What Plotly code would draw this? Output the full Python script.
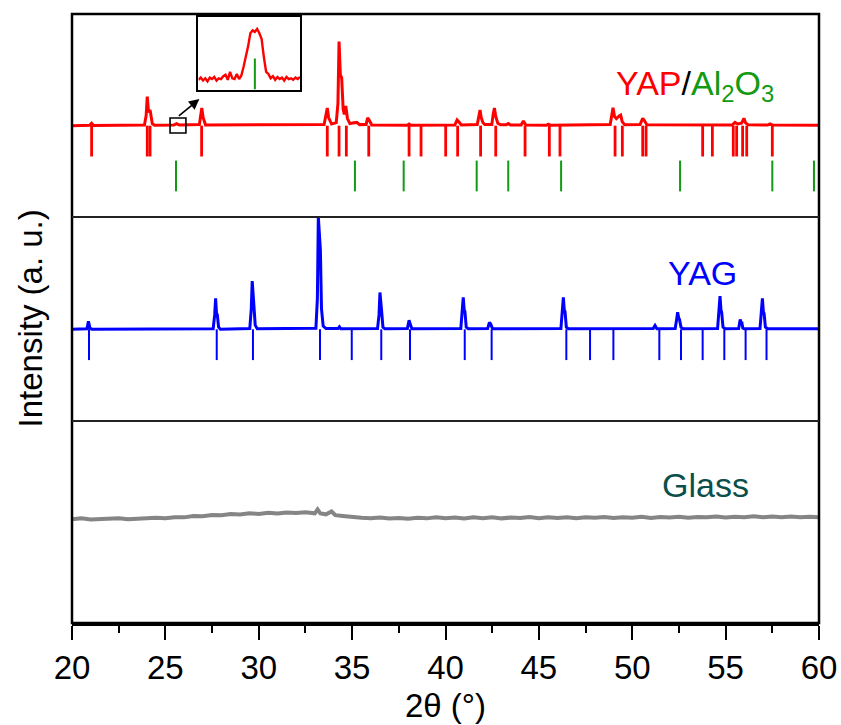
import plotly.graph_objects as go

# ---------------- data ----------------
# YAP/Al2O3 sample pattern (top panel), vertices of the measured trace
yap_two_theta = [20.00, 20.95, 21.05, 21.15, 23.88, 23.97, 24.03, 24.10, 24.18, 24.24, 24.30, 24.42,
                 25.45, 25.60, 25.75, 26.82, 26.90, 26.95, 27.02, 27.15,
                 33.50, 33.60, 33.67, 33.74, 33.90, 34.15, 34.24, 34.30, 34.37, 34.44, 34.52, 34.58,
                 34.66, 34.75, 34.88, 35.02, 35.25, 35.40, 35.75, 35.83, 35.90, 36.05,
                 37.95, 38.05, 38.15, 40.50, 40.62, 40.70, 40.85,
                 41.70, 41.79, 41.85, 41.91, 42.00, 42.10, 42.48, 42.56, 42.62, 42.69, 42.80, 42.95,
                 43.25, 43.36, 43.48, 44.05, 44.17, 44.30, 45.40, 45.50, 45.62,
                 48.82, 48.90, 48.97, 49.05, 49.15, 49.30, 49.38, 49.46, 49.60,
                 50.42, 50.50, 50.56, 50.65, 50.78, 55.35, 55.50, 55.65, 55.85, 55.93, 55.98, 56.06, 56.20,
                 57.25, 57.38, 57.52, 60.00]
yap_intensity = [45.0, 45.2, 46.2, 45.1, 45.3, 50.0, 59.3, 51.5, 52.7, 49.0, 46.0, 45.2,
                 45.3, 46.0, 45.3, 45.5, 50.0, 53.7, 49.0, 45.3,
                 45.5, 49.5, 53.7, 49.0, 45.8, 46.5, 56.0, 86.4, 70.0, 68.5, 53.0, 50.5,
                 54.7, 48.5, 46.0, 46.3, 46.6, 45.5, 45.6, 48.8, 48.0, 45.3,
                 45.2, 45.8, 45.2, 45.3, 47.8, 47.0, 45.3,
                 45.5, 50.0, 52.7, 49.0, 46.5, 45.5, 45.5, 51.0, 53.7, 49.5, 46.2, 45.4,
                 45.4, 46.0, 45.3, 45.3, 47.3, 45.3, 45.2, 45.7, 45.2,
                 45.5, 51.0, 53.8, 49.5, 48.5, 49.8, 50.2, 47.0, 45.4,
                 45.5, 47.5, 48.6, 47.5, 45.4, 45.3, 46.6, 45.8, 46.2, 47.5, 48.6, 46.5, 45.4,
                 45.3, 45.9, 45.3, 45.2]

# YAG sample pattern (middle panel)
yag_two_theta = [20.00, 20.80, 20.88, 20.96, 21.06,
                 27.56, 27.64, 27.69, 27.74, 27.78, 27.85, 27.95,
                 29.52, 29.60, 29.65, 29.70, 29.74, 29.81, 29.92,
                 33.06, 33.14, 33.19, 33.25, 33.30, 33.36, 33.45, 33.60,
                 34.25, 34.32, 34.40,
                 36.36, 36.44, 36.49, 36.54, 36.58, 36.65, 36.76,
                 37.96, 38.05, 38.11, 38.20,
                 40.82, 40.90, 40.95, 41.00, 41.04, 41.11, 41.22,
                 42.26, 42.35, 42.42, 42.52,
                 46.18, 46.26, 46.31, 46.36, 46.40, 46.47, 46.58,
                 51.12, 51.22, 51.32,
                 52.30, 52.38, 52.43, 52.49, 52.53, 52.61, 52.72,
                 54.57, 54.65, 54.70, 54.75, 54.79, 54.86, 54.98,
                 55.70, 55.78, 55.82, 55.87, 55.92, 56.00,
                 56.84, 56.92, 56.97, 57.02, 57.06, 57.13, 57.25, 60.00]
yag_intensity = [45.0, 45.2, 48.9, 45.5, 45.0,
                 45.2, 52.0, 60.1, 52.5, 52.2, 46.0, 45.0,
                 45.3, 55.0, 68.6, 57.0, 56.7, 47.0, 45.2,
                 45.5, 60.0, 100.0, 88.0, 83.9, 55.0, 46.5, 45.3,
                 45.3, 46.2, 45.2,
                 45.3, 52.0, 63.0, 54.5, 53.8, 46.0, 45.2,
                 45.3, 49.4, 47.5, 45.2,
                 45.3, 53.0, 60.6, 54.5, 53.7, 46.0, 45.2,
                 45.3, 48.3, 47.5, 45.2,
                 45.3, 54.0, 60.6, 54.5, 53.7, 46.0, 45.2,
                 45.3, 46.8, 45.2,
                 45.3, 50.0, 53.3, 50.5, 49.8, 46.0, 45.2,
                 45.3, 54.0, 61.2, 54.5, 53.2, 46.0, 45.2,
                 45.3, 49.8, 48.5, 48.3, 45.5, 45.2,
                 45.3, 54.0, 60.1, 53.5, 52.7, 46.0, 45.2, 45.2]

# Glass sample pattern (bottom panel)
glass_two_theta = [20.0, 20.5, 21.0, 21.5, 22.0, 22.5, 23.0, 23.5, 24.0, 24.5, 25.0, 25.5, 26.0, 26.5,
                   27.0, 27.5, 28.0, 28.5, 29.0, 29.5, 30.0, 30.5, 31.0, 31.5, 32.0, 32.5, 33.0, 33.15,
                   33.3, 33.6, 33.9, 34.1, 34.5, 35.0, 35.5, 36.0, 36.5, 37.0, 37.5, 38.0, 38.5, 39.0,
                   39.5, 40.0, 40.5, 41.0, 41.5, 42.0, 42.5, 43.0, 43.5, 44.0, 44.5, 45.0, 45.5, 46.0,
                   46.5, 47.0, 47.5, 48.0, 48.5, 49.0, 49.5, 50.0, 50.5, 51.0, 51.5, 52.0, 52.5, 53.0,
                   53.5, 54.0, 54.5, 55.0, 55.5, 56.0, 56.5, 57.0, 57.5, 58.0, 58.5, 59.0, 59.5, 60.0]
glass_intensity = [51.4, 51.8, 51.3, 51.6, 51.5, 51.9, 51.4, 51.8, 51.7, 52.1, 51.9, 52.4, 52.3, 53.0,
                   52.8, 53.4, 53.3, 53.9, 53.7, 54.3, 54.0, 54.6, 54.2, 54.7, 54.4, 54.8, 54.3, 56.2,
                   54.2, 53.8, 55.2, 53.4, 53.0, 52.4, 52.1, 51.8, 52.2, 51.7, 52.0, 51.6, 52.1, 51.8,
                   52.3, 51.9, 52.2, 51.7, 52.3, 51.9, 52.4, 51.8, 52.2, 52.0, 52.5, 51.9, 52.3, 52.0,
                   52.4, 51.9, 52.3, 52.1, 52.5, 52.0, 52.4, 52.1, 52.6, 52.0, 52.5, 52.2, 52.6, 52.1,
                   52.5, 52.3, 52.7, 52.2, 52.6, 52.4, 52.8, 52.3, 52.7, 52.4, 52.7, 52.3, 52.6, 52.4]

# Reference (standard card) line positions
yap_ref = [21.05, 24.03, 24.18, 26.94, 33.67, 34.30, 34.69, 35.89, 38.05, 38.69, 40.01, 40.65,
           41.88, 42.69, 44.26, 45.56, 46.13, 49.08, 49.47, 50.56, 50.74, 53.77, 54.29, 55.41,
           55.59, 55.91, 56.13, 57.50]
al2o3_ref = [25.57, 35.15, 37.76, 41.67, 43.36, 46.19, 52.56, 57.50, 59.73]
yag_ref = [20.91, 27.75, 29.69, 33.28, 34.98, 36.56, 38.10, 41.03, 42.47, 46.47, 47.74, 48.99,
           51.45, 52.61, 53.77, 54.93, 56.07, 57.19]

# Enlarged view of the weak Al2O3 reflection
inset_two_theta = [25.08, 25.10, 25.12, 25.14, 25.16, 25.18, 25.20, 25.22, 25.24, 25.26, 25.28, 25.30,
                   25.32, 25.34, 25.36, 25.38, 25.40, 25.42, 25.44, 25.46, 25.48, 25.50, 25.52, 25.54,
                   25.56, 25.58, 25.60, 25.62, 25.64, 25.66, 25.68, 25.70, 25.72, 25.74, 25.76, 25.78,
                   25.80, 25.82, 25.84, 25.86, 25.88, 25.90, 25.92, 25.94, 25.96, 25.98]
inset_intensity = [14, 17, 13, 16, 12, 17, 15, 18, 13, 16, 15, 19,
                   21, 14, 25, 16, 15, 22, 15, 20, 32, 45, 60, 78,
                   82, 80, 84, 78, 70, 45, 25, 22, 16, 19, 14, 18,
                   15, 17, 13, 18, 15, 16, 14, 17, 15, 18]

RED = "#ff0000"
GREEN = "#129a12"
BLUE = "#0000ff"
GRAY = "#858585"
FONT = "Arial, Liberation Sans, sans-serif"

fig = go.Figure()

# measured patterns
fig.add_trace(go.Scatter(x=yap_two_theta, y=yap_intensity, mode="lines", xaxis="x", yaxis="y3",
                         line=dict(color=RED, width=3)))
fig.add_trace(go.Scatter(x=yag_two_theta, y=yag_intensity, mode="lines", xaxis="x", yaxis="y2",
                         line=dict(color=BLUE, width=3)))
fig.add_trace(go.Scatter(x=glass_two_theta, y=glass_intensity, mode="lines", xaxis="x", yaxis="y",
                         line=dict(color=GRAY, width=4)))

# reference line markers
def ref_lines(pos, level, color, axis, width):
    return go.Scatter(x=pos, y=[level] * len(pos), mode="markers", xaxis="x", yaxis=axis,
                      marker=dict(symbol="line-ns", size=22, line=dict(color=color, width=width)))

fig.add_trace(ref_lines(yap_ref, 37.4, RED, "y3", 2.8))
fig.add_trace(ref_lines(al2o3_ref, 20.2, GREEN, "y3", 2))
fig.add_trace(ref_lines(yag_ref, 37.4, BLUE, "y2", 2))

# inset
fig.add_trace(go.Scatter(x=inset_two_theta, y=inset_intensity, mode="lines", xaxis="x2", yaxis="y4",
                         line=dict(color=RED, width=2.4)))
fig.add_trace(go.Scatter(x=[25.58], y=[22.1], mode="markers", xaxis="x2", yaxis="y4",
                         marker=dict(symbol="line-ns", size=22, line=dict(color=GREEN, width=2))))

hidden_y = dict(showticklabels=False, ticks="", showgrid=False, zeroline=False, showline=False,
                range=[0, 100])

fig.update_layout(
    width=841, height=725,
    margin=dict(l=72, r=22, t=14, b=102, autoexpand=False),
    paper_bgcolor="white", plot_bgcolor="white",
    showlegend=False,
    font=dict(family=FONT, color="black", size=33),
    xaxis=dict(range=[20, 60], anchor="y", tickvals=[20, 25, 30, 35, 40, 45, 50, 55, 60],
               automargin=False,
               ticks="outside", ticklen=14, tickwidth=2, tickcolor="black",
               minor=dict(ticks="outside", dtick=2.5, tick0=20, ticklen=7, tickwidth=2,
                          tickcolor="black"),
               showline=True, linecolor="black", linewidth=2.5,
               showgrid=False, zeroline=False, tickfont=dict(size=33)),
    yaxis=dict(domain=[0, 0.3317], anchor="x", **hidden_y),
    yaxis2=dict(domain=[0.3317, 0.6667], anchor="x", **hidden_y),
    yaxis3=dict(domain=[0.6667, 1.0], anchor="x", **hidden_y),
    xaxis2=dict(domain=[0.1693, 0.3052], anchor="y4", range=[25.08, 25.98], showticklabels=False,
                ticks="", showgrid=False, zeroline=False, showline=True, mirror=True,
                linecolor="black", linewidth=1.5),
    yaxis4=dict(domain=[0.8752, 0.9946], anchor="x2", range=[0, 100], showticklabels=False,
                ticks="", showgrid=False, zeroline=False, showline=True, mirror=True,
                linecolor="black", linewidth=1.5),
)

# frame and panel dividers
fig.add_shape(type="rect", xref="paper", yref="paper", x0=0, x1=1, y0=0, y1=1,
              line=dict(color="black", width=2.5))
for yd in (0.3317, 0.6667):
    fig.add_shape(type="line", xref="paper", yref="paper", x0=0, x1=1, y0=yd, y1=yd,
                  line=dict(color="#222222", width=2))

# zoom box marking the inset region
fig.add_shape(type="rect", xref="x", yref="y3", x0=25.25, x1=26.10, y0=41.4, y1=48.8,
              line=dict(color="black", width=1.6))
fig.add_annotation(x=26.82, y=58.1, xref="x", yref="y3", ax=-22, ay=18, text="",
                   showarrow=True, arrowhead=2, arrowsize=1.3, arrowwidth=1.6, arrowcolor="black")

# sample labels
fig.add_annotation(x=53.36, y=65, xref="x", yref="y3", showarrow=False, xanchor="center",
                   yanchor="middle", font=dict(size=34),
                   text=f'<span style="color:{RED}">YAP</span>/'
                        f'<span style="color:{GREEN}">Al<sub>2</sub>O<sub>3</sub></span>')
fig.add_annotation(x=53.76, y=72.7, xref="x", yref="y2", showarrow=False, xanchor="center",
                   yanchor="middle", text="YAG", font=dict(size=34, color=BLUE))
fig.add_annotation(x=53.92, y=68.3, xref="x", yref="y", showarrow=False, xanchor="center",
                   yanchor="middle", text="Glass", font=dict(size=34, color="#0b4f4b"))

# axis titles
fig.add_annotation(x=0.5, y=-0.136, xref="paper", yref="paper", showarrow=False,
                   xanchor="center", yanchor="middle", text="2θ (°)", font=dict(size=33))
fig.add_annotation(x=-0.0562, y=0.5, xref="paper", yref="paper", showarrow=False,
                   xanchor="center", yanchor="middle", textangle=-90,
                   text="Intensity (a. u.)", font=dict(size=33))

fig.write_html("out.html")
